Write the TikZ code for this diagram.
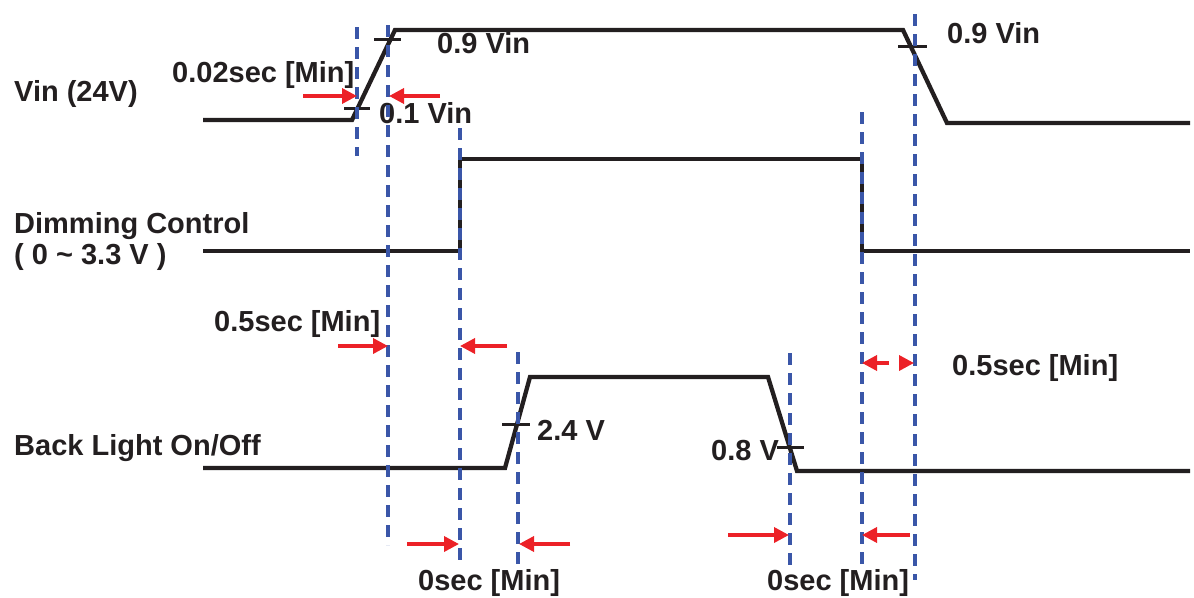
\documentclass[tikz,border=0pt]{standalone}
\usepackage{fontspec}
\setmainfont{Liberation Sans}
\usetikzlibrary{arrows.meta}
\definecolor{ink}{HTML}{231F20}
\definecolor{guide}{HTML}{3A56A8}
\definecolor{arr}{HTML}{EC2127}
\begin{document}
\begin{tikzpicture}[x=1pt,y=-1pt,
 sig/.style={ink,line width=4.3pt,line join=miter},
 tickmark/.style={ink,line width=3pt},
 guideline/.style={guide,line width=4pt,dash pattern=on 12pt off 8pt},
 redarrow/.style={arr,line width=3.5pt,-{Triangle[length=15pt,width=15pt]}},
 lbl/.style={ink,font=\fontsize{29}{34}\selectfont\bfseries,inner sep=0pt,anchor=base west}]
\useasboundingbox (0,0) rectangle (1194,597);
% labels
\node[lbl] (vin) at (14,101) {Vin (24V)};
\node[lbl] (dim) at (14,233) {Dimming Control};
\node[lbl] (dimr) at (14,264) {( 0 \textasciitilde{} 3.3 V )};
\node[lbl] (bl) at (14,455) {Back Light On/Off};
\node[lbl] (t002) at (172,82) {0.02sec [Min]};
\node[lbl] (v09a) at (437,53) {0.9 Vin};
\node[lbl] (v01) at (379,123) {0.1 Vin};
\node[lbl] (v09b) at (947,43) {0.9 Vin};
\node[lbl] (t05a) at (214,331) {0.5sec [Min]};
\node[lbl] (t05b) at (952,375) {0.5sec [Min]};
\node[lbl] (v24) at (537,440) {2.4 V};
\node[lbl] (v08) at (711,460) {0.8 V};
\node[lbl] (t0a) at (418,590) {0sec [Min]};
\node[lbl] (t0b) at (767,590) {0sec [Min]};
% signals
\draw[sig] (203,120) -- (352,120) -- (395,30) -- (903,30) -- (947,123) -- (1190,123);
\draw[sig] (203,251) -- (460,251) -- (460,159) -- (862,159) -- (862,251) -- (1190,251);
\draw[sig] (203,468) -- (505,468) -- (530,377) -- (768,377) -- (797,471) -- (1190,471);
% level ticks
\draw[tickmark] (344,108) -- (370,108);
\draw[tickmark] (374,39) -- (401,39);
\draw[tickmark] (898,46) -- (927,46);
\draw[tickmark] (502,424) -- (530,424);
\draw[tickmark] (777,447) -- (804,447);
% guide lines
\draw[guideline] (357,27) -- (357,156);
\draw[guideline] (388,25) -- (388,545);
\draw[guideline] (460,128) -- (460,565);
\draw[guideline] (518,352) -- (518,565);
\draw[guideline] (790,353) -- (790,567);
\draw[guideline] (862,112) -- (862,565);
\draw[guideline] (915,14) -- (915,580);
% red arrows
\coordinate (a1s) at (303,96); \coordinate (a1e) at (357,96);
\coordinate (a2s) at (440,96); \coordinate (a2e) at (389,96);
\coordinate (a3s) at (338,346); \coordinate (a3e) at (388,346);
\coordinate (a4s) at (507,346); \coordinate (a4e) at (460,346);
\coordinate (a5s) at (407,544); \coordinate (a5e) at (459,544);
\coordinate (a6s) at (570,544); \coordinate (a6e) at (519,544);
\coordinate (a7s) at (728,535); \coordinate (a7e) at (789,535);
\coordinate (a8s) at (910,535); \coordinate (a8e) at (862,535);
\coordinate (a9s) at (889,363); \coordinate (a9e) at (862,363);
\coordinate (a10s) at (900,363); \coordinate (a10e) at (914,363);
\foreach \i in {1,...,10} \draw[redarrow] (a\i s) -- (a\i e);
\end{tikzpicture}
\end{document}
